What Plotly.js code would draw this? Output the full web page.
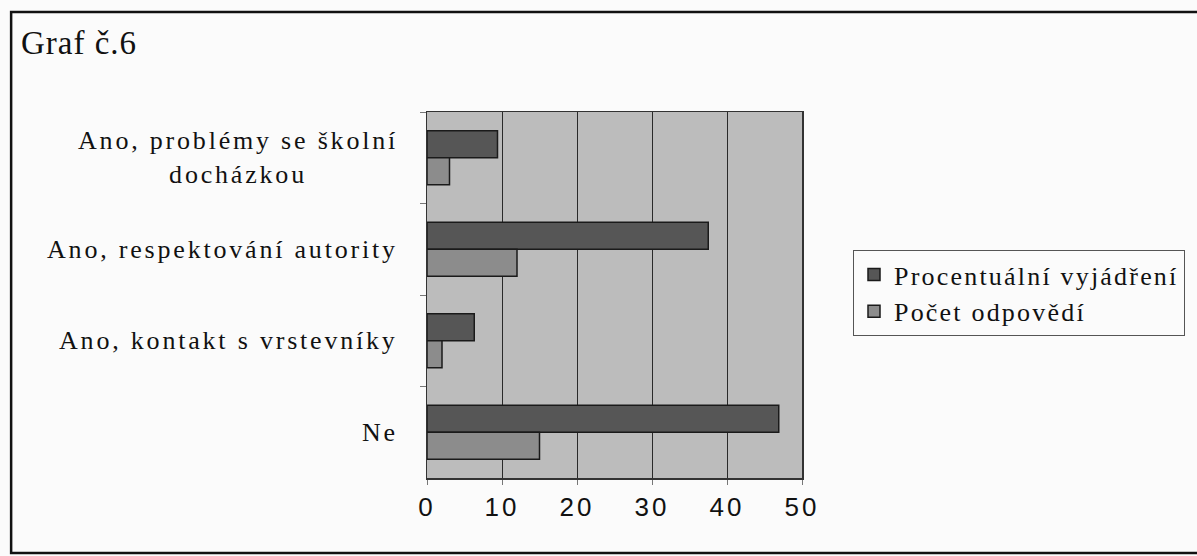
<!DOCTYPE html>
<html>
<head>
<meta charset="utf-8">
<script src="https://cdn.plot.ly/plotly-3.0.1.min.js"></script>
<style>
  html, body { margin: 0; padding: 0; background: #fbfbfb; }
  #chart { width: 1197px; height: 556px; }
  .annotation-text { letter-spacing: 2.8px; }
  .legendtext { letter-spacing: 2.2px; }
  .xtick text { letter-spacing: 3px; }
  .gtitle { letter-spacing: 1px; }
</style>
</head>
<body>
<div id="chart"></div>
<script>
// Data (top to bottom as drawn)
const categories = ['Ano, problémy se školní docházkou', 'Ano, respektování autority', 'Ano, kontakt s vrstevníky', 'Ne'];
const categoryLabels = ['Ano, problémy se školní<br>docházkou', 'Ano, respektování autority', 'Ano, kontakt s vrstevníky', 'Ne'];
const percentValues = [9.4, 37.5, 6.3, 46.9];
const countValues = [3, 12, 2, 15];
const seriesNames = ['Procentuální vyjádření', 'Počet odpovědí'];
const xTicks = [0, 10, 20, 30, 40, 50];

const serif = 'Liberation Serif, Times New Roman, serif';
const sans = 'Liberation Sans, Arial, sans-serif';

const traces = [
  {
    type: 'bar', orientation: 'h', name: seriesNames[0],
    y: categories, x: percentValues,
    marker: { color: '#565656', line: { color: '#1a1a1a', width: 1.5 } },
    hoverinfo: 'x+y'
  },
  {
    type: 'bar', orientation: 'h', name: seriesNames[1],
    y: categories, x: countValues,
    marker: { color: '#8c8c8c', line: { color: '#1a1a1a', width: 1.5 } },
    hoverinfo: 'x+y'
  }
];

const annotations = categories.map((c, i) => ({
  xref: 'paper', yref: 'y', x: 0, y: c,
  xanchor: 'right', yanchor: 'middle', xshift: -27,
  text: categoryLabels[i], showarrow: false, align: 'center',
  font: { family: serif, size: 26, color: '#111' }
}));

const layout = {
  width: 1197, height: 556,
  margin: { l: 427, r: 395, t: 112, b: 78, pad: 0 },
  paper_bgcolor: '#fbfbfb',
  plot_bgcolor: '#bcbcbc',
  barmode: 'group', bargap: 0.41, bargroupgap: 0,
  showlegend: true,
  title: {
    text: 'Graf č.6', x: 21 / 1197, xanchor: 'left', xref: 'container',
    y: 1 - 42 / 556, yanchor: 'middle', yref: 'container',
    font: { family: serif, size: 33, color: '#111' }
  },
  xaxis: {
    range: [0, 50], tickvals: xTicks, ticktext: xTicks.map(String),
    showgrid: true, gridcolor: '#2a2a2a', gridwidth: 1,
    zeroline: false,
    showline: true, linecolor: '#333', linewidth: 1.5, mirror: true,
    ticks: 'outside', ticklen: 5, tickcolor: '#777',
    tickfont: { family: sans, size: 26, color: '#111' },
    fixedrange: true
  },
  yaxis: {
    type: 'category', autorange: 'reversed',
    showticklabels: false,
    tickson: 'boundaries', ticks: 'outside', ticklen: 6, tickcolor: '#777',
    showgrid: false, zeroline: false,
    showline: true, linecolor: '#333', linewidth: 1.5, mirror: true,
    fixedrange: true
  },
  legend: {
    x: 1.136, y: 0.623, xanchor: 'left', yanchor: 'top',
    traceorder: 'normal',
    bgcolor: 'rgba(0,0,0,0)', bordercolor: '#555', borderwidth: 1,
    font: { family: serif, size: 26, color: '#111' },
    itemwidth: 30, tracegroupgap: 4
  },
  annotations: annotations,
  shapes: [
    {
      type: 'rect', xref: 'paper', yref: 'paper',
      x0: -1.109, x1: 2.4, y0: -0.205, y1: 1.273,
      line: { color: '#111', width: 2.5 }, fillcolor: 'rgba(0,0,0,0)', layer: 'below'
    }
  ]
};

Plotly.newPlot('chart', traces, layout, { displayModeBar: false, staticPlot: true });
</script>
</body>
</html>
